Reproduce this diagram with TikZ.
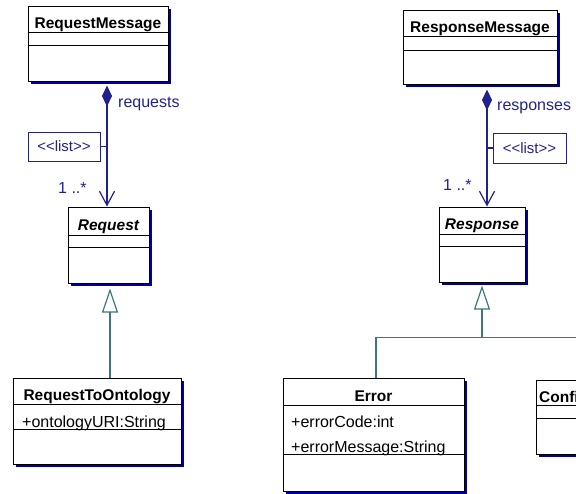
\documentclass[tikz,border=0pt]{standalone}
\usepackage{fontspec}
\newfontfamily\umlfont{Liberation Sans}
\usetikzlibrary{arrows.meta,positioning,calc,shadows}
\definecolor{assocblue}{HTML}{22228F}
\definecolor{shadeblue}{HTML}{0000A0}
\definecolor{genteal}{HTML}{3D7878}
% two compartment rules, given as distances below the top edge
\newcommand{\Rules}[3]{%
  \draw[rule] ([yshift=-#2pt]#1.north west) -- ([yshift=-#2pt]#1.north east);
  \draw[rule] ([yshift=-#3pt]#1.north west) -- ([yshift=-#3pt]#1.north east);}
\tikzset{
  cls/.style={draw=black, fill=white, line width=1pt, inner sep=0pt,
              drop shadow={shadow xshift=3pt, shadow yshift=-3pt, fill=shadeblue, opacity=1}},
  rule/.style={black, line width=0.9pt},
  ttl/.style={anchor=base, inner sep=0pt, font=\umlfont\bfseries\fontsize{15.5}{18}\selectfont},
  attr/.style={anchor=base west, inner sep=0pt, font=\umlfont\fontsize{16}{19}\selectfont},
  lbl/.style={anchor=base west, inner sep=0pt, text=assocblue, font=\umlfont\fontsize{16}{19}\selectfont},
  stereo/.style={draw=assocblue, line width=1pt, text=assocblue, inner sep=0pt,
                 font=\umlfont\fontsize{15}{18}\selectfont},
  assoc/.style={assocblue, line width=1.2pt},
  comp/.style={assoc, {Diamond[length=21pt,width=10pt]}-{Straight Barb[length=14pt,width=15pt]}},
  genl/.style={genteal, line width=1.2pt},
  gen/.style={genl, -{Triangle[open,fill=white,length=24pt,width=16pt]}},
}

\begin{document}
\begin{tikzpicture}[x=1pt,y=-1pt]
  \useasboundingbox (0,0) rectangle (576,493);
  \clip (0,0) rectangle (576,493);

  % request side
  \node[cls, minimum width=140pt, minimum height=75pt] (rqm) at (98,43.5) {};
  \Rules{rqm}{27}{40}
  \node[ttl] (rqm-t) at (98,28) {RequestMessage};

  \node[cls, minimum width=81pt, minimum height=76pt] (rq) at (108.5,245) {};
  \Rules{rq}{29}{41}
  \node[ttl, font=\umlfont\bfseries\itshape\fontsize{15.5}{18}\selectfont] (rq-t) at (108.5,230) {Request};

  \node[cls, minimum width=168pt, minimum height=86pt] (rto) at (97,421) {};
  \Rules{rto}{27}{52}
  \node[ttl] (rto-t) at (97,400) {RequestToOntology};
  \node[attr] (rto-a) at (22,427) {+ontologyURI:String};

  \coordinate (rqa) at ([xshift=-1.5pt]rq.north);
  \draw[comp, shorten <=4pt] (rqa |- rqm.south) -- (rqa);
  \node[stereo, minimum width=72pt, minimum height=29pt] (rql) at (64,146.5) {<<list>>};
  \draw[assoc] (rql.east) -- (rql.east -| rqa);
  \node[lbl] (rq-role) at (118,107) {requests};
  \node[lbl] (rq-mult) at (58,193) {1 ..*};

  \coordinate (rqg) at ([xshift=1.5pt]rq.south);
  \draw[gen, shorten >=5pt] (rto.north -| rqg) -- (rqg);

  % response side
  \node[cls, minimum width=154pt, minimum height=74pt] (rsm) at (480,47) {};
  \Rules{rsm}{27}{41}
  \node[ttl] (rsm-t) at (480,32) {ResponseMessage};

  \node[cls, minimum width=86pt, minimum height=75pt] (rs) at (482,244.5) {};
  \Rules{rs}{28}{40}
  \node[ttl, font=\umlfont\bfseries\itshape\fontsize{15.5}{18}\selectfont] (rs-t) at (482,229) {Response};

  \node[cls, minimum width=181pt, minimum height=113pt] (err) at (373.5,434.5) {};
  \Rules{err}{28}{77}
  \node[ttl] (err-t) at (373.5,401) {Error};
  \node[attr] (err-a1) at (291,427) {+errorCode:int};
  \node[attr] (err-a2) at (291,452) {+errorMessage:String};

  \node[cls, minimum width=140pt, minimum height=74pt] (cnf) at (606,417) {};
  \Rules{cnf}{26}{39}
  \node[ttl, anchor=base west] (cnf-t) at (539,402) {Confi};

  \coordinate (rsa) at ([xshift=5pt]rs.north);
  \draw[comp, shorten <=5pt] (rsa |- rsm.south) -- (rsa);
  \node[stereo, minimum width=73pt, minimum height=30pt] (rsl) at (529.5,148) {<<list>>};
  \draw[assoc] (rsl.west) -- (rsl.west -| rsa);
  \node[lbl] (rs-role) at (497,110) {responses};
  \node[lbl] (rs-mult) at (443,190) {1 ..*};

  \coordinate (rsj) at ([yshift=-55pt]rs.south);
  \draw[gen, shorten >=3pt] ([xshift=2.5pt]err.north) |- (rsj) -- (rs.south);
  \draw[genl] (cnf.north) |- (rsj);
\end{tikzpicture}
\end{document}
